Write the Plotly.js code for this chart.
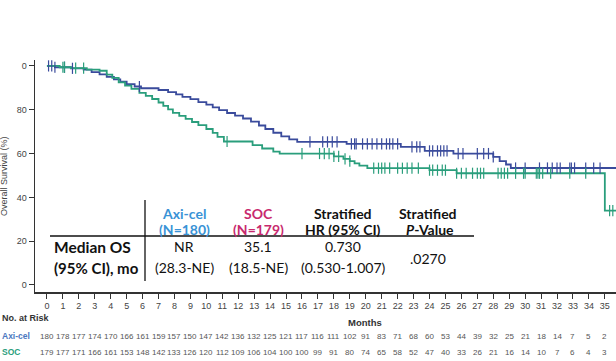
<!DOCTYPE html>
<html>
<head>
<meta charset="utf-8">
<script src="https://cdn.plot.ly/plotly-3.0.1.min.js"></script>
<style>html,body{margin:0;padding:0;background:#fff;}#chart{width:616px;height:361px;}</style>
</head>
<body>
<div id="chart"></div>
<script>
// ---- Data ----
var axiTime = [0, 0.5, 1.5, 2.3, 2.8, 3.3, 3.75, 4.2, 4.6, 5.0, 5.5, 5.9, 7.0, 7.6, 8.1, 8.5, 9.0, 9.5, 10.0, 10.4, 10.8, 11.3, 11.8, 12.3, 12.8, 13.3, 13.7, 14.2, 14.7, 15.2, 15.7, 18.8, 22.2, 23.7, 25.5, 28.0, 28.4, 28.8, 29.1, 36];
var axiSurv = [100, 99.4, 98.9, 98.3, 97.2, 96.1, 95.0, 93.9, 92.8, 91.7, 90.6, 89.8, 89.0, 88.0, 87.0, 85.9, 84.8, 83.5, 82.3, 81.1, 79.8, 78.5, 77.3, 76.0, 74.6, 72.8, 71.2, 69.5, 67.8, 66.5, 65.3, 64.4, 63.0, 61.2, 60.0, 58.5, 56.5, 55.0, 53.4, 53.4];
var socTime = [0, 0.8, 1.5, 2.5, 3.3, 3.75, 4.1, 4.5, 4.9, 5.3, 5.8, 6.2, 6.6, 7.0, 7.3, 7.6, 7.9, 8.3, 8.7, 9.1, 9.5, 10.0, 10.4, 10.7, 11.1, 12.9, 13.5, 14.2, 14.6, 18.0, 18.6, 19.0, 19.3, 19.6, 20.1, 24.0, 25.7, 35.0, 36];
var socSurv = [100, 99.4, 99.0, 98.3, 97.8, 96.0, 94.5, 92.5, 91.0, 89.5, 87.7, 86.3, 84.9, 83.3, 81.8, 80.2, 78.6, 77.2, 75.8, 74.4, 73.0, 71.2, 69.4, 67.6, 65.5, 63.8, 62.3, 60.9, 60.0, 58.7, 57.6, 56.5, 55.5, 54.5, 53.3, 52.4, 51.0, 33.9, 33.9];
var axiCensor = [0.1, 0.3, 0.5, 1.1, 1.6, 5.8, 16.5, 17.3, 17.6, 17.9, 18.2, 19.1, 19.3, 19.4, 19.8, 20.1, 20.4, 20.7, 21.0, 21.3, 21.5, 21.7, 22.0, 22.9, 23.2, 23.4, 24.0, 24.2, 24.5, 24.7, 24.9, 25.1, 25.8, 26.1, 27.0, 27.4, 27.7, 28.0, 29.4, 30.0, 30.9, 31.4, 31.7, 32.0, 32.2, 32.8, 32.9, 33.1, 33.8, 34.3, 34.7];
var socCensor = [1.0, 1.1, 1.8, 2.3, 11.3, 16.0, 17.1, 17.4, 17.7, 18.0, 18.3, 18.7, 19.0, 20.5, 20.8, 21.0, 21.2, 21.5, 22.0, 22.3, 22.6, 22.9, 23.3, 24.0, 24.2, 24.5, 24.8, 25.0, 25.7, 26.0, 26.3, 26.7, 27.0, 27.2, 27.4, 28.3, 28.5, 28.7, 28.9, 29.4, 29.9, 30.0, 30.7, 30.8, 30.9, 31.1, 31.6, 32.8, 33.8, 35.3, 35.5];
var months = [0,1,2,3,4,5,6,7,8,9,10,11,12,13,14,15,16,17,18,19,20,21,22,23,24,25,26,27,28,29,30,31,32,33,34,35,36];
var axiRisk = [180,178,177,174,170,166,161,159,157,150,147,142,136,132,125,121,117,116,111,102,91,83,71,68,60,53,44,39,32,25,21,18,14,7,5,2];
var socRisk = [179,177,171,166,161,153,148,142,133,126,120,112,109,106,104,100,100,99,91,80,74,65,58,52,47,40,33,26,21,16,14,10,7,6,4,3];
var yTickVals = [0, 20, 40, 60, 80, 100];
var yTickText = ['0', '20', '40', '60', '80', '0'];

var blue = '#3a4b9c', green = '#2a9e7c';

function stepAt(ts, ss, t) {
  var v = ss[0];
  for (var i = 0; i < ts.length; i++) { if (ts[i] <= t) v = ss[i]; }
  return v;
}

// layout geometry (pixels)
var W = 616, H = 361, L = 35, R = 0, T = 60, B = 69;
function px(x) { return (x - L) / (W - L - R); }
function py(y) { return (H - B - y) / (H - T - B); }

var traces = [
  {x: axiTime, y: axiSurv, mode: 'lines', line: {shape: 'hv', color: blue, width: 1.8}, hoverinfo: 'skip'},
  {x: socTime, y: socSurv, mode: 'lines', line: {shape: 'hv', color: green, width: 1.8}, hoverinfo: 'skip'},
  {x: axiCensor, y: axiCensor.map(function(t){return stepAt(axiTime, axiSurv, t);}), mode: 'markers',
   marker: {symbol: 'line-ns-open', size: 8, color: blue, line: {color: blue, width: 1.2}}, hoverinfo: 'skip'},
  {x: socCensor, y: socCensor.map(function(t){return stepAt(socTime, socSurv, t);}), mode: 'markers',
   marker: {symbol: 'line-ns-open', size: 8, color: green, line: {color: green, width: 1.2}}, hoverinfo: 'skip'}
];

var ann = [];
var tf = 'Lato, "Open Sans", sans-serif';
function t(x, y, text, opts) {
  var a = {xref: 'paper', yref: 'paper', x: px(x), y: py(y), text: text, showarrow: false,
    xanchor: 'center', yanchor: 'middle', font: {family: tf, size: 14, color: '#111'}};
  for (var k in opts) a[k] = opts[k];
  ann.push(a);
}
// table
var cA = 184, cS = 258, cH = 343, cP = 428;
t(cA, 213, '<b>Axi-cel</b>', {font: {family: tf, size: 14, color: '#3a93d6'}});
t(cA, 229, '<b>(N=180)</b>', {font: {family: tf, size: 14, color: '#3a93d6'}});
t(cS, 213, '<b>SOC</b>', {font: {family: tf, size: 14, color: '#c8296e'}});
t(cS, 229, '<b>(N=179)</b>', {font: {family: tf, size: 14, color: '#c8296e'}});
t(cH, 213, '<b>Stratified</b>');
t(cH, 229, '<b>HR (95% CI)</b>');
t(cP, 213, '<b>Stratified</b>');
t(cP + 2, 229, '<b><i>P</i>-Value</b>');
t(52, 247, '<b>Median OS</b>', {xanchor: 'left', font: {family: tf, size: 15.5, color: '#111'}});
t(52, 268, '<b>(95% CI), mo</b>', {xanchor: 'left', font: {family: tf, size: 15, color: '#111'}});
t(cA, 246, 'NR');
t(cA, 267, '(28.3-NE)');
t(cS, 246, '35.1');
t(cS, 267, '(18.5-NE)');
t(cH, 246, '0.730');
t(cH, 267, '(0.530-1.007)');
t(cP, 258, '.0270');

// axis titles and risk table labels
var sf = '"Liberation Sans", Arial, sans-serif';
t(365, 322, '<b>Months</b>', {font: {family: sf, size: 9.5, color: '#333'}});
t(4, 176, 'Overall Survival (%)', {textangle: -90, font: {family: sf, size: 9, color: '#444'}});
t(0, 318, '<b>No. at Risk</b>', {xanchor: 'left', font: {family: sf, size: 9, color: '#333'}});
t(0, 336, '<b>Axi-cel</b>', {xanchor: 'left', font: {family: sf, size: 8.5, color: '#4a78c0'}});
t(0, 352, '<b>SOC</b>', {xanchor: 'left', font: {family: sf, size: 8.5, color: '#2a9e7c'}});
for (var i = 0; i < axiRisk.length; i++) {
  ann.push({xref: 'x', yref: 'paper', x: months[i], y: py(336), text: String(axiRisk[i]), showarrow: false,
    xanchor: 'center', yanchor: 'middle', font: {family: sf, size: 8, color: '#555'}});
}
for (var j = 0; j < socRisk.length; j++) {
  ann.push({xref: 'x', yref: 'paper', x: months[j], y: py(352), text: String(socRisk[j]), showarrow: false,
    xanchor: 'center', yanchor: 'middle', font: {family: sf, size: 8, color: '#555'}});
}

var shapes = [
  {type: 'line', xref: 'paper', yref: 'paper', x0: px(50), x1: px(474), y0: py(236), y1: py(236), line: {color: '#111', width: 1.3}},
  {type: 'line', xref: 'paper', yref: 'paper', x0: px(145), x1: px(145), y0: py(200), y1: py(281), line: {color: '#111', width: 1.3}}
];

var layout = {
  width: W, height: H,
  margin: {l: L, r: R, t: T, b: B, pad: 0},
  paper_bgcolor: '#fff', plot_bgcolor: '#fff',
  showlegend: false,
  xaxis: {range: [-0.75, 35.7], tickmode: 'array', tickvals: months, ticktext: months.map(String),
    showgrid: false, zeroline: false, showline: true, linecolor: '#333', linewidth: 1.5,
    ticks: 'outside', ticklen: 5, tickcolor: '#333', tickwidth: 1,
    tickfont: {family: sf, size: 9, color: '#444'}},
  yaxis: {range: [-3.2, 102.7], tickmode: 'array', tickvals: yTickVals, ticktext: yTickText,
    showgrid: false, zeroline: false, showline: true, linecolor: '#333', linewidth: 1.5,
    ticks: 'outside', ticklen: 5, tickcolor: '#333', tickwidth: 1,
    tickfont: {family: sf, size: 9, color: '#444'}},
  annotations: ann,
  shapes: shapes
};

Plotly.newPlot('chart', traces, layout, {staticPlot: true, displayModeBar: false});
</script>
</body>
</html>
